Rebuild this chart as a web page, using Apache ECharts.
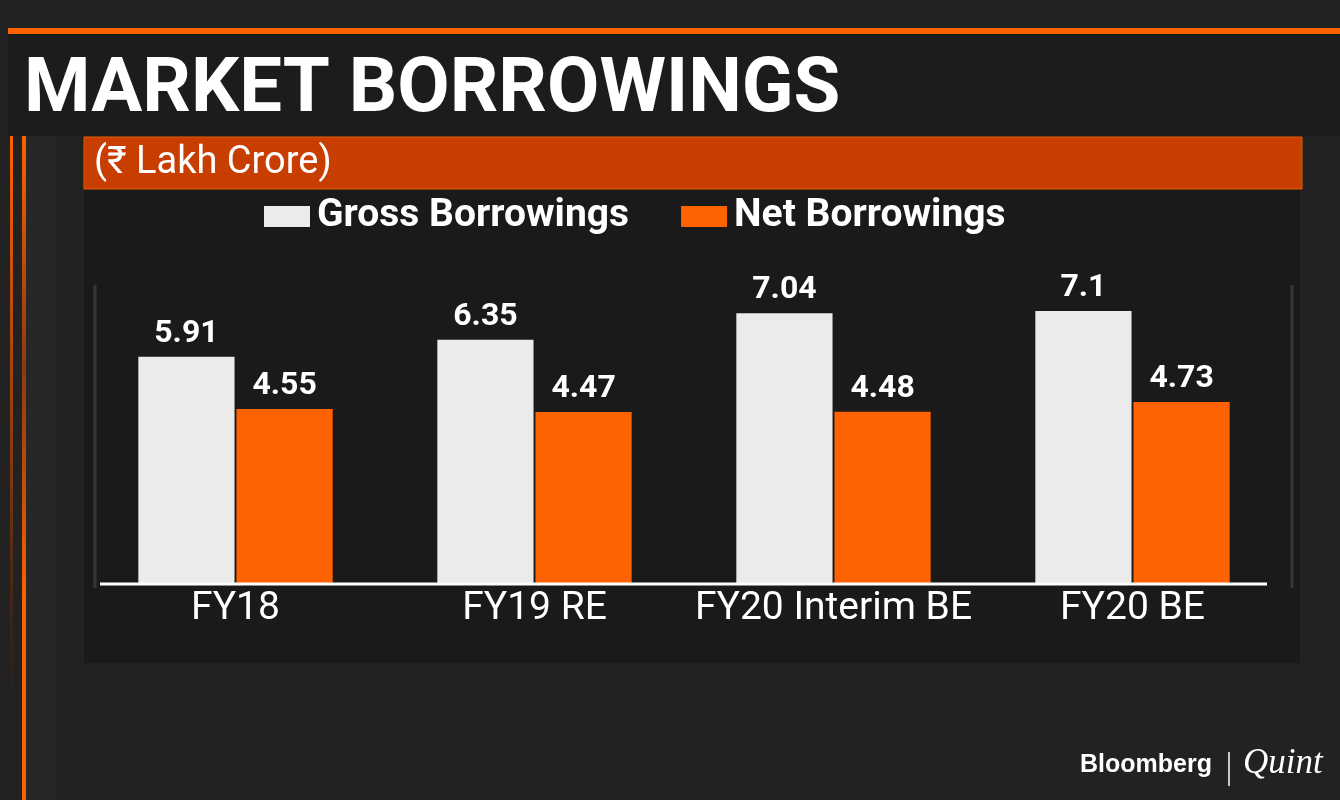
<!DOCTYPE html>
<html>
<head>
<meta charset="utf-8">
<script src="https://cdn.jsdelivr.net/npm/echarts@6/dist/echarts.min.js"></script>
<style>
html,body{margin:0;padding:0;background:#222222;}
#chart{width:1340px;height:800px;}
</style>
</head>
<body>
<div id="chart"></div>
<script>
const categories = ['FY18', 'FY19 RE', 'FY20 Interim BE', 'FY20 BE'];
const grossBorrowings = [5.91, 6.35, 7.04, 7.1];
const netBorrowings = [4.55, 4.47, 4.48, 4.73];
const seriesNames = ['Gross Borrowings', 'Net Borrowings'];
const titleText = 'MARKET BORROWINGS';
const unitText = '(₹ Lakh Crore)';

const chart = echarts.init(document.getElementById('chart'));
const FONT = 'Roboto, "Noto Sans", sans-serif';

chart.setOption({
  backgroundColor: '#222222',
  animation: false,
  graphic: [
    {type:'rect', z:0, shape:{x:26,y:136,width:30,height:664}, style:{fill:'#272727'}},
    {type:'rect', z:1, shape:{x:10,y:136,width:3,height:590},
      style:{fill:new echarts.graphic.LinearGradient(0,0,0,1,[{offset:0,color:'#ff6000'},{offset:0.6,color:'#7a3510'},{offset:1,color:'rgba(60,30,10,0)'}])}},
    {type:'rect', z:1, shape:{x:22,y:136,width:4,height:664},
      style:{fill:new echarts.graphic.LinearGradient(0,0,0,1,[{offset:0,color:'#ff6000'},{offset:0.35,color:'#8a3a10'},{offset:0.7,color:'#ff6000'},{offset:1,color:'#ff6000'}])}},
    {type:'rect', z:1, shape:{x:8,y:28,width:1332,height:6}, style:{fill:'#ff6000'}},
    {type:'rect', z:1, shape:{x:8,y:34,width:1332,height:102}, style:{fill:'#1c1c1c'}},
    {type:'rect', z:1, shape:{x:84,y:137,width:1218,height:52}, style:{fill:'#c83e00', stroke:'#e85a00', lineWidth:1}},
    {type:'rect', z:0, shape:{x:84,y:189,width:1216,height:474}, style:{fill:'#1a1a1a'}},
    {type:'line', z:2, shape:{x1:95,y1:285,x2:95,y2:588}, style:{stroke:'#363636', lineWidth:3}},
    {type:'line', z:2, shape:{x1:1292,y1:285,x2:1292,y2:588}, style:{stroke:'#363636', lineWidth:3}},
    {type:'text', z:5, left:24, top:54,
      style:{text:titleText, fill:'#ffffff', font:'bold 76px ' + FONT, textShadowColor:'#000', textShadowOffsetX:3, textShadowOffsetY:3, textShadowBlur:0}},
    {type:'text', z:5, left:94, top:144,
      style:{text:unitText, fill:'#ffffff', font:'38px ' + FONT}},
    {type:'text', z:5, left:1080, top:753,
      style:{text:'Bloomberg', fill:'#ffffff', font:'bold 25px "Liberation Sans", Arial, sans-serif'}},
    {type:'line', z:5, shape:{x1:1229,y1:752,x2:1229,y2:786}, style:{stroke:'#ffffff', lineWidth:1.5}},
    {type:'text', z:5, left:1243, top:746,
      style:{text:'Quint', fill:'#ffffff', font:'italic 35px "Liberation Serif", "DejaVu Serif", serif'}},
    {type:'line', z:10, shape:{x1:100,y1:584,x2:1267,y2:584}, style:{stroke:'#ffffff', lineWidth:3}}
  ],
  legend: {
    data: seriesNames,
    left: 264,
    top: 197,
    padding: 0,
    itemWidth: 46,
    itemHeight: 21,
    itemGap: 52,
    icon: 'rect',
    textStyle: {color:'#ffffff', fontSize:39, fontWeight:'bold', fontFamily:FONT, padding:[0,0,0,2]}
  },
  grid: {left:86, right:58, top:284, bottom:216, containLabel:false},
  xAxis: {
    type:'category',
    data: categories,
    axisLine:{show:false},
    axisTick:{show:false},
    axisLabel:{color:'#ffffff', fontSize:39, fontFamily:FONT, margin:6, interval:0}
  },
  yAxis: {
    type:'value', min:0, max:7.8,
    show:false,
    splitLine:{show:false}
  },
  series: [
    {
      name: seriesNames[0], type:'bar', data: grossBorrowings,
      barCategoryGap:'35%', barGap:'2%',
      itemStyle:{color:'#ebebeb'},
      label:{show:true, position:'top', distance:7, color:'#ffffff', fontSize:32, fontWeight:'bold', fontFamily:FONT}
    },
    {
      name: seriesNames[1], type:'bar', data: netBorrowings,
      itemStyle:{color:'#ff6200'},
      label:{show:true, position:'top', distance:7, color:'#ffffff', fontSize:32, fontWeight:'bold', fontFamily:FONT}
    }
  ]
});
</script>
</body>
</html>
